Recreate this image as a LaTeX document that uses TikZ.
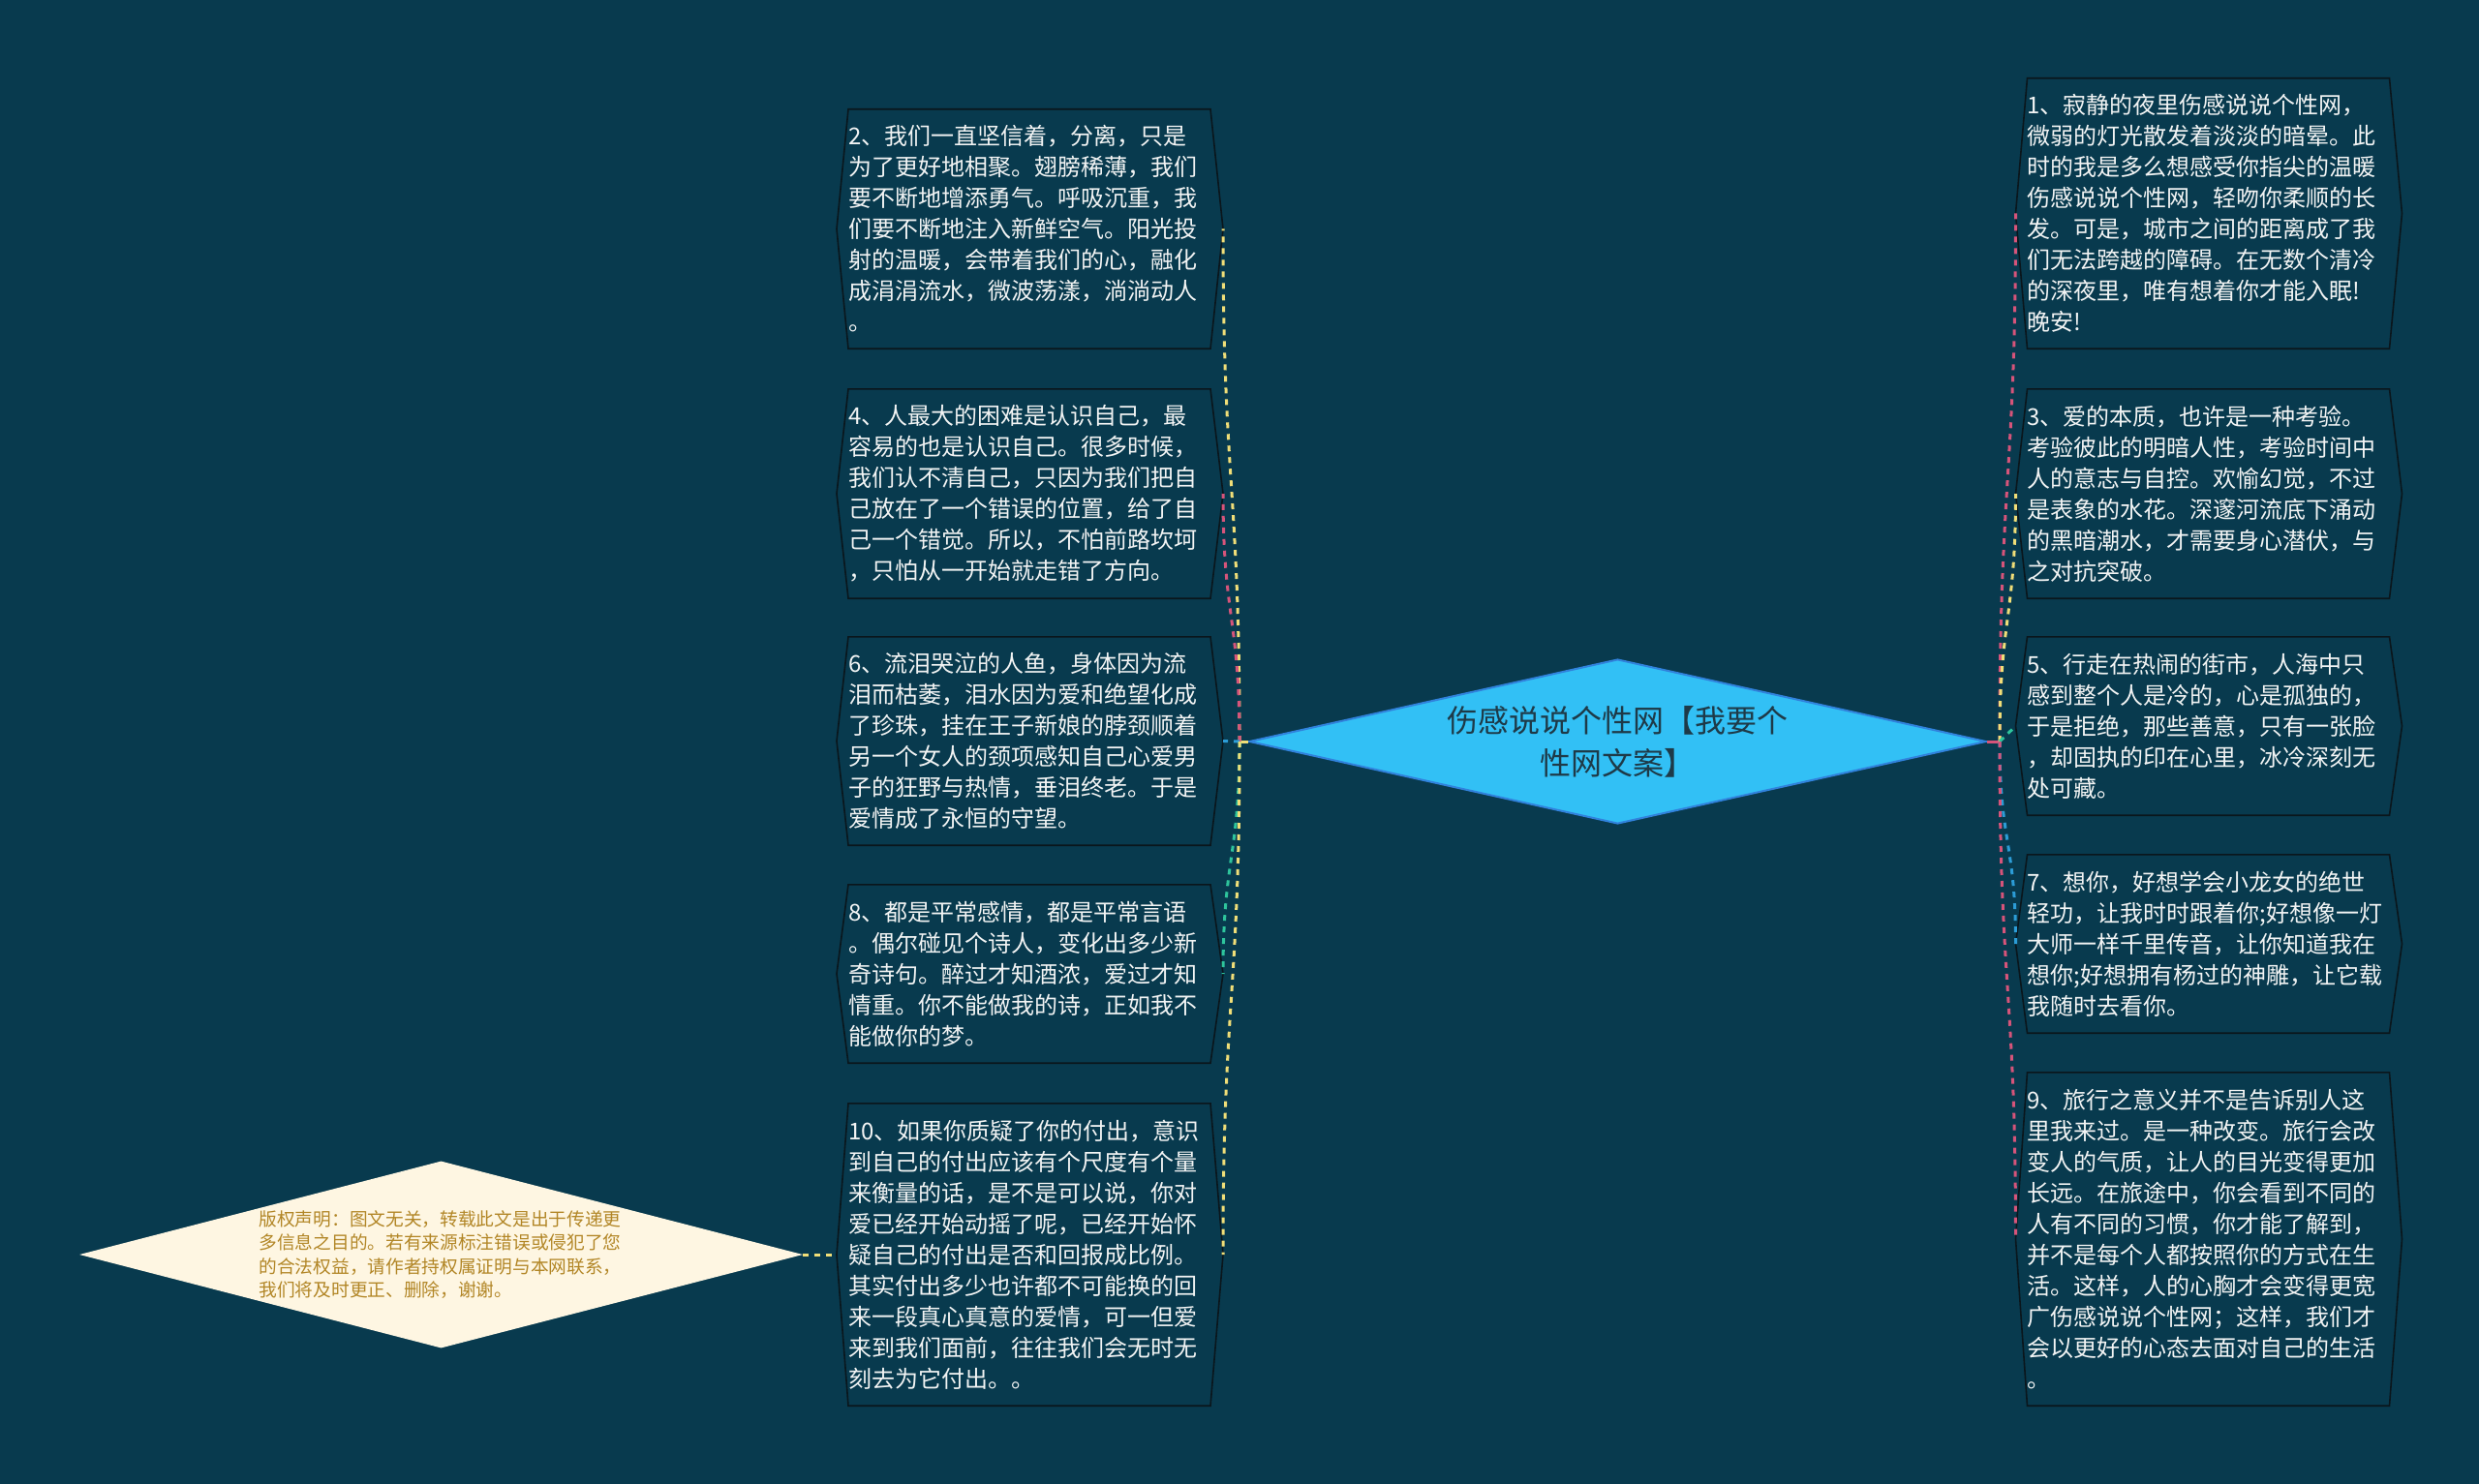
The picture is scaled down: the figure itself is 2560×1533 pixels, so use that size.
\documentclass[tikz,border=0pt]{standalone}
\usepackage{fontspec}
\setmainfont{Noto Sans CJK SC}
\usetikzlibrary{shapes.geometric,calc}
\definecolor{bg}{RGB}{8,58,78}
\definecolor{boxtext}{RGB}{242,244,244}
\definecolor{boxedge}{RGB}{10,22,28}
\definecolor{mainfill}{RGB}{50,192,245}
\definecolor{mainedge}{RGB}{48,130,220}
\definecolor{maintext}{RGB}{30,58,72}
\definecolor{creamfill}{RGB}{254,246,226}
\definecolor{goldtext}{RGB}{178,134,38}
\definecolor{cyellow}{RGB}{240,222,120}
\definecolor{cpink}{RGB}{214,84,122}
\definecolor{cblue}{RGB}{44,156,214}
\definecolor{cteal}{RGB}{46,196,156}
\tikzset{
  textbox/.style={text width=374pt, inner xsep=0pt, inner ysep=0pt, align=left,
    text=boxtext, font=\fontsize{24pt}{32pt}\selectfont, anchor=center},
  boxline/.style={draw=boxedge, line width=1.6pt, line join=miter},
  conn/.style={line width=3pt, dash pattern=on 6pt off 6pt},
  stub/.style={line width=3pt},
}
\newcommand\hexbox[1]{%
  \draw[boxline] ([xshift=-187pt]#1.north) -- ([xshift=187pt]#1.north)
    -- ([xshift=200pt]#1.center) -- ([xshift=187pt]#1.south)
    -- ([xshift=-187pt]#1.south) -- ([xshift=-199pt]#1.center) -- cycle;
  \coordinate (#1R) at ([xshift=200pt]#1.center);
  \coordinate (#1L) at ([xshift=-199pt]#1.center);
}
\newcommand\bend[3]{%
  \draw[conn,#3] (#1) .. controls ($(#1)!0.5!(#1|-#2)$) and ($(#2)!0.5!(#2|-#1)$) .. (#2);
}
\begin{document}
\begin{tikzpicture}[x=1pt,y=-1pt]
\fill[bg] (0,0) rectangle (2560,1533);
\useasboundingbox (0,0) rectangle (2560,1533);

% central topic
\node[diamond, aspect=4.48, minimum width=761pt, minimum height=170pt, inner sep=0pt,
  fill=mainfill, draw=mainedge, line width=2pt, text=maintext, align=center,
  font=\fontsize{32pt}{44pt}\selectfont] (main) at (1670.5,766)
  {伤感说说个性网【我要个\\性网文案】};

% left boxes
\node[textbox, minimum height=247pt] (b2) at (1063,236.5) {2、我们一直坚信着，分离，只是\\为了更好地相聚。翅膀稀薄，我们\\要不断地增添勇气。呼吸沉重，我\\们要不断地注入新鲜空气。阳光投\\射的温暖，会带着我们的心，融化\\成涓涓流水，微波荡漾，淌淌动人\\。};
\node[textbox, minimum height=216pt] (b4) at (1063,510) {4、人最大的困难是认识自己，最\\容易的也是认识自己。很多时候，\\我们认不清自己，只因为我们把自\\己放在了一个错误的位置，给了自\\己一个错觉。所以，不怕前路坎坷\\，只怕从一开始就走错了方向。};
\node[textbox, minimum height=215pt] (b6) at (1063,765.5) {6、流泪哭泣的人鱼，身体因为流\\泪而枯萎，泪水因为爱和绝望化成\\了珍珠，挂在王子新娘的脖颈顺着\\另一个女人的颈项感知自己心爱男\\子的狂野与热情，垂泪终老。于是\\爱情成了永恒的守望。};
\node[textbox, minimum height=184pt] (b8) at (1063,1006) {8、都是平常感情，都是平常言语\\。偶尔碰见个诗人，变化出多少新\\奇诗句。醉过才知酒浓，爱过才知\\情重。你不能做我的诗，正如我不\\能做你的梦。};
\node[textbox, minimum height=312pt] (b10) at (1063,1296) {10、如果你质疑了你的付出，意识\\到自己的付出应该有个尺度有个量\\来衡量的话，是不是可以说，你对\\爱已经开始动摇了呢，已经开始怀\\疑自己的付出是否和回报成比例。\\其实付出多少也许都不可能换的回\\来一段真心真意的爱情，可一但爱\\来到我们面前，往往我们会无时无\\刻去为它付出。。};

% right boxes
\node[textbox, minimum height=279pt] (b1) at (2280.5,220.5) {1、寂静的夜里伤感说说个性网，\\微弱的灯光散发着淡淡的暗晕。此\\时的我是多么想感受你指尖的温暖\\伤感说说个性网，轻吻你柔顺的长\\发。可是，城市之间的距离成了我\\们无法跨越的障碍。在无数个清冷\\的深夜里，唯有想着你才能入眠!\\晚安!};
\node[textbox, minimum height=216pt] (b3) at (2280.5,510) {3、爱的本质，也许是一种考验。\\考验彼此的明暗人性，考验时间中\\人的意志与自控。欢愉幻觉，不过\\是表象的水花。深邃河流底下涌动\\的黑暗潮水，才需要身心潜伏，与\\之对抗突破。};
\node[textbox, minimum height=184pt] (b5) at (2280.5,750) {5、行走在热闹的街市，人海中只\\感到整个人是冷的，心是孤独的，\\于是拒绝，那些善意，只有一张脸\\，却固执的印在心里，冰冷深刻无\\处可藏。};
\node[textbox, minimum height=184pt] (b7) at (2280.5,975) {7、想你，好想学会小龙女的绝世\\轻功，让我时时跟着你;好想像一灯\\大师一样千里传音，让你知道我在\\想你;好想拥有杨过的神雕，让它载\\我随时去看你。};
\node[textbox, minimum height=344pt] (b9) at (2280.5,1280) {9、旅行之意义并不是告诉别人这\\里我来过。是一种改变。旅行会改\\变人的气质，让人的目光变得更加\\长远。在旅途中，你会看到不同的\\人有不同的习惯，你才能了解到，\\并不是每个人都按照你的方式在生\\活。这样，人的心胸才会变得更宽\\广伤感说说个性网；这样，我们才\\会以更好的心态去面对自己的生活\\。};

\hexbox{b2}\hexbox{b4}\hexbox{b6}\hexbox{b8}\hexbox{b10}
\hexbox{b1}\hexbox{b3}\hexbox{b5}\hexbox{b7}\hexbox{b9}

% disclaimer
\node[diamond, aspect=3.87, minimum width=747pt, minimum height=193pt, inner sep=0pt,
  fill=creamfill, text=goldtext, text width=376pt, align=left,
  font=\fontsize{18.7pt}{24.5pt}\selectfont] (note) at (455.5,1296)
  {版权声明：图文无关，转载此文是出于传递更\\多信息之目的。若有来源标注错误或侵犯了您\\的合法权益，请作者持权属证明与本网联系，\\我们将及时更正、删除，谢谢。};

% connectors
\coordinate (LJ) at (1280,766);
\coordinate (RJ) at (2065,766);
\draw[stub, cyellow] (main.west) -- (LJ);
\draw[stub, cpink] (main.east) -- (RJ);
\bend{LJ}{b2R}{cyellow}
\bend{LJ}{b4R}{cpink}
\draw[conn, cblue] (LJ) -- (b6R);
\bend{LJ}{b8R}{cteal}
\bend{LJ}{b10R}{cyellow}
\bend{RJ}{b1L}{cpink}
\bend{RJ}{b3L}{cyellow}
\draw[conn, cteal] (RJ) -- (b5L);
\bend{RJ}{b7L}{cblue}
\bend{RJ}{b9L}{cpink}
\draw[conn, cyellow] (note.east) -- (b10L);
\end{tikzpicture}
\end{document}
